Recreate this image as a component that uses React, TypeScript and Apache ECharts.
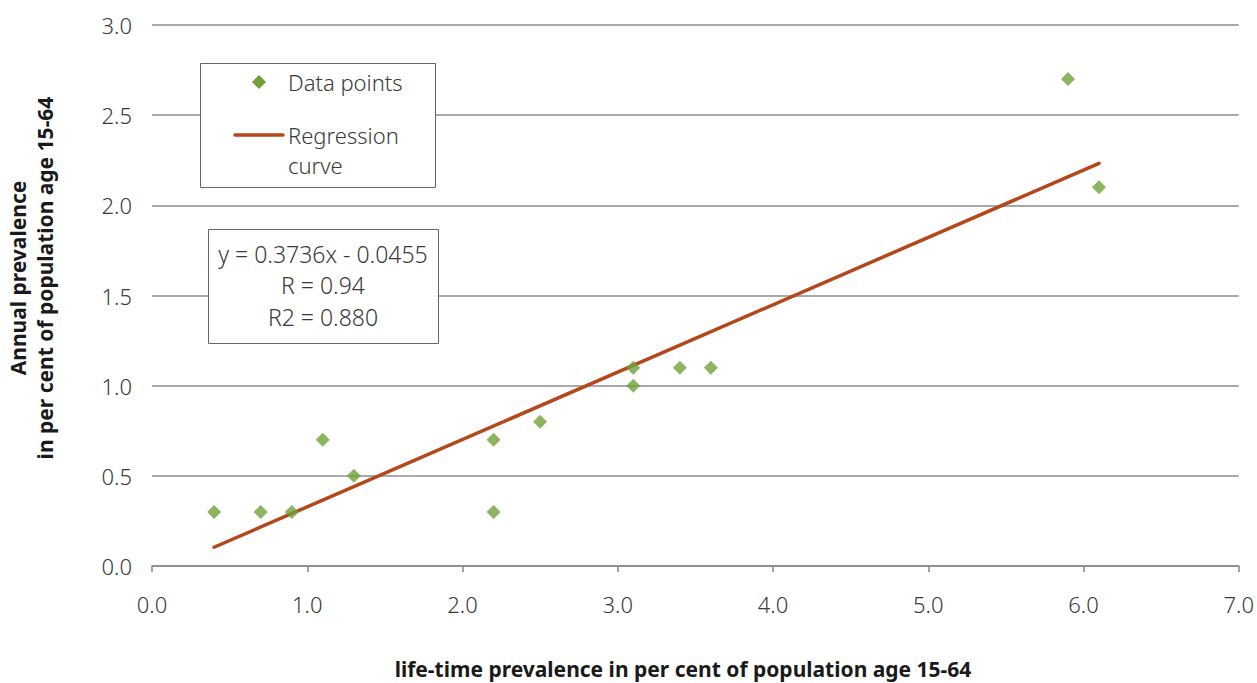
import React, { useEffect, useRef } from "react";
import * as echarts from "echarts";

const pointsX = [0.4, 0.7, 0.9, 1.1, 1.3, 2.2, 2.2, 2.5, 3.1, 3.1, 3.4, 3.6, 5.9, 6.1];
const pointsY = [0.3, 0.3, 0.3, 0.7, 0.5, 0.7, 0.3, 0.8, 1.1, 1.0, 1.1, 1.1, 2.7, 2.1];
const regressionX = [0.4, 6.1];
const regressionY = [0.104, 2.233];
const equationLines = ["y = 0.3736x - 0.0455", "R = 0.94", "R2 = 0.880"];
const legendNames = ["Data points", "Regression\ncurve"];
const xAxisTitle = "life-time prevalence in per cent of population age 15-64";
const yAxisTitle = ["Annual prevalence", "in per cent of population age 15-64"];

const GREEN = "#6ea238";
const RUST = "#b5471b";
const FONT = "'Noto Sans', 'Open Sans', sans-serif";
const TEXT = "#3a3a3a";

export default function App() {
  const ref = useRef<HTMLDivElement>(null);
  useEffect(() => {
    if (!ref.current) return;
    const chart = echarts.init(ref.current, undefined, { renderer: "svg" });
    chart.setOption({
      animation: false,
      backgroundColor: "#ffffff",
      grid: { left: 152, right: 17, top: 25, bottom: 117 },
      xAxis: {
        type: "value",
        min: 0,
        max: 7,
        interval: 1,
        axisLine: { show: true, lineStyle: { color: "#888888", width: 1.5 } },
        axisTick: { show: true, length: 6, lineStyle: { color: "#888888", width: 1.5 } },
        splitLine: { show: false },
        axisLabel: {
          formatter: (v: number) => v.toFixed(1),
          fontSize: 22,
          fontWeight: 300,
          fontFamily: FONT,
          color: TEXT,
          margin: 27,
        },
      },
      yAxis: {
        type: "value",
        min: 0,
        max: 3,
        interval: 0.5,
        axisLine: { show: false },
        axisTick: { show: false },
        splitLine: { show: true, lineStyle: { color: "#8c8c8c", width: 1.5 } },
        axisLabel: {
          formatter: (v: number) => v.toFixed(1),
          fontSize: 22,
          fontWeight: 300,
          fontFamily: FONT,
          color: TEXT,
          margin: 20,
        },
      },
      series: [
        {
          name: legendNames[1],
          type: "line",
          data: regressionX.map((x, i) => [x, regressionY[i]]),
          symbol: "none",
          lineStyle: { color: RUST, width: 3.5, cap: "round" },
          z: 2,
        },
        {
          name: legendNames[0],
          type: "scatter",
          data: pointsX.map((x, i) => [x, pointsY[i]]),
          symbol: "diamond",
          symbolSize: 14,
          itemStyle: { color: GREEN },
          z: 3,
        },
      ],
      graphic: [
        {
          type: "rect",
          shape: { x: 200.5, y: 63.5, width: 235, height: 124 },
          style: { fill: "#ffffff", stroke: "#666666", lineWidth: 1 },
          z: 10,
        },
        {
          type: "polygon",
          shape: { points: [[259, 75], [266, 82], [259, 89], [252, 82]] },
          style: { fill: GREEN },
          z: 11,
        },
        {
          type: "text",
          x: 288,
          y: 82,
          style: { text: legendNames[0], fontSize: 22, fontWeight: 300, fontFamily: FONT, fill: TEXT, verticalAlign: "middle" },
          z: 11,
        },
        {
          type: "line",
          shape: { x1: 235, y1: 135, x2: 283, y2: 135 },
          style: { stroke: RUST, lineWidth: 3.5, lineCap: "round" },
          z: 11,
        },
        {
          type: "text",
          x: 288,
          y: 120,
          style: { text: legendNames[1], fontSize: 22, fontWeight: 300, fontFamily: FONT, fill: TEXT, lineHeight: 30, verticalAlign: "top" },
          z: 11,
        },
        {
          type: "rect",
          shape: { x: 208.5, y: 229.5, width: 230, height: 114 },
          style: { fill: "#ffffff", stroke: "#666666", lineWidth: 1 },
          z: 10,
        },
        {
          type: "text",
          x: 323,
          y: 238,
          style: {
            text: equationLines.join("\n"),
            fontSize: 23,
            fontWeight: 300,
            fontFamily: FONT,
            fill: TEXT,
            align: "center",
            verticalAlign: "top",
            lineHeight: 31.5,
          },
          z: 11,
        },
        {
          type: "text",
          x: 683,
          y: 669,
          style: {
            text: xAxisTitle,
            fontSize: 21,
            fontWeight: "bold",
            fontFamily: FONT,
            fill: "#1a1a1a",
            align: "center",
            verticalAlign: "middle",
          },
        },
        {
          type: "text",
          x: 31,
          y: 278,
          rotation: Math.PI / 2,
          style: {
            text: yAxisTitle.join("\n"),
            fontSize: 21,
            fontWeight: "bold",
            fontFamily: FONT,
            fill: "#1a1a1a",
            align: "center",
            verticalAlign: "middle",
            lineHeight: 27,
          },
        },
      ],
    });
    return () => chart.dispose();
  }, []);
  return <div ref={ref} style={{ width: 1257, height: 683, position: "absolute", left: 0, top: 0 }} />;
}
